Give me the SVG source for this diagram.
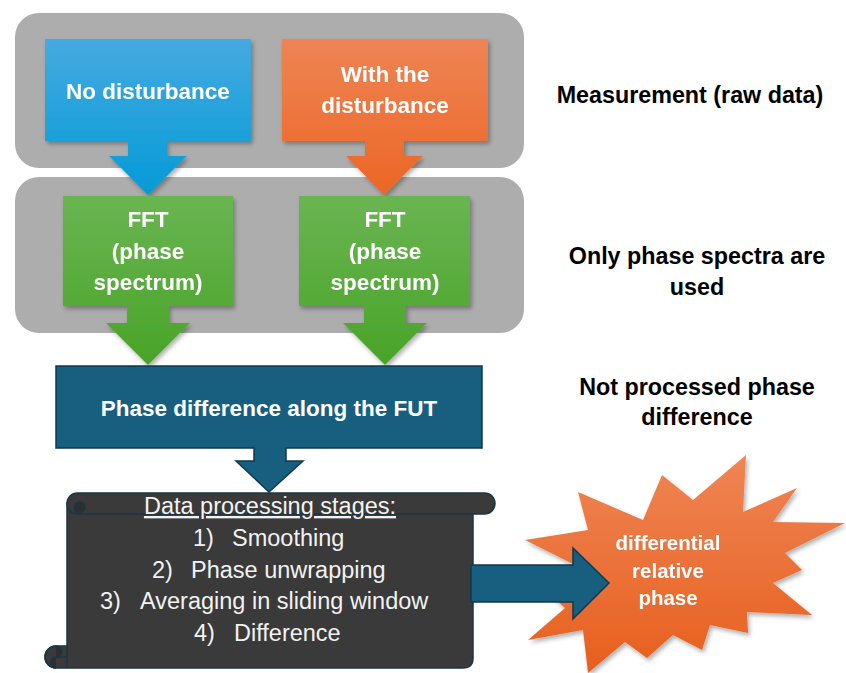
<svg xmlns="http://www.w3.org/2000/svg" width="846" height="673" viewBox="0 0 846 673">
<defs>
<linearGradient id="gBlue" x1="0" y1="0" x2="0" y2="1"><stop offset="0" stop-color="#45aae1"/><stop offset="1" stop-color="#049ad6"/></linearGradient>
<linearGradient id="gOrange" x1="0" y1="0" x2="0" y2="1"><stop offset="0" stop-color="#ee8455"/><stop offset="1" stop-color="#ec6624"/></linearGradient>
<linearGradient id="gGreen" x1="0" y1="0" x2="0" y2="1"><stop offset="0" stop-color="#69b552"/><stop offset="1" stop-color="#49a427"/></linearGradient>
<linearGradient id="gStar" x1="0" y1="0" x2="0" y2="1"><stop offset="0" stop-color="#ef8554"/><stop offset="1" stop-color="#e75f1e"/></linearGradient>
<filter id="sh" x="-10%" y="-10%" width="130%" height="130%"><feDropShadow dx="2" dy="3" stdDeviation="2" flood-color="#000" flood-opacity="0.3"/></filter>
<style>
.panel{fill:#adadad}
.wb{font-family:"Liberation Sans",Arial,sans-serif;font-weight:bold;font-size:22.5px;fill:#fff;text-anchor:middle}
.lbl{font-family:"Liberation Sans",Arial,sans-serif;font-weight:bold;font-size:23.3px;fill:#000;text-anchor:middle}
.sc{font-family:"Liberation Sans",Arial,sans-serif;font-size:23.5px;fill:#f2f2f2}
.dk{fill:#175e7f;stroke:#0e3a4f;stroke-width:1.5}
.st{font-family:"Liberation Sans",Arial,sans-serif;font-weight:bold;font-size:20.5px;fill:#fff;text-anchor:middle}
.ol{stroke:#1a3646;stroke-width:1.5}
</style>
</defs>

<g id="panels">
<rect class="panel" x="15" y="13" width="509" height="155" rx="24"/>
<rect class="panel" x="15" y="177" width="509" height="156" rx="24"/>
</g>

<g id="no-disturbance" filter="url(#sh)">
<path fill="url(#gBlue)" d="M45,39 H251 V141 H167 V156 H187 L148,195 L109,156 H128 V141 H45 Z"/>
<text class="wb" x="148" y="99">No disturbance</text>
</g>

<g id="with-disturbance" filter="url(#sh)">
<path fill="url(#gOrange)" d="M282,39 H488 V141 H404 V156 H423 L384,195 L346,156 H365 V141 H282 Z"/>
<text class="wb" x="385" y="82">With the</text>
<text class="wb" x="385" y="113">disturbance</text>
</g>

<g id="fft-left" filter="url(#sh)">
<path fill="url(#gGreen)" d="M63,196 H233 V306 H169 V323 H190 L148,365 L106,323 H127 V306 H63 Z"/>
<text class="wb" x="148" y="227">FFT</text>
<text class="wb" x="148" y="259">(phase</text>
<text class="wb" x="148" y="290">spectrum)</text>
</g>

<g id="fft-right" filter="url(#sh)">
<path fill="url(#gGreen)" d="M299,196 H470 V306 H406 V323 H427 L385,365 L343,323 H364 V306 H299 Z"/>
<text class="wb" x="385" y="227">FFT</text>
<text class="wb" x="385" y="259">(phase</text>
<text class="wb" x="385" y="290">spectrum)</text>
</g>

<g id="phase-difference">
<path class="dk" d="M56,366 H482 V448 H286 V461 H303 L269,492 L236,461 H254 V448 H56 Z"/>
<text class="wb" x="269" y="416">Phase difference along the FUT</text>
</g>

<g id="starburst" filter="url(#sh)">
<polygon fill="url(#gStar)" points="525,540 588,530 578,492 643,520 662,475 693,500 746,455 743,512 797,488 773,522 845,523 785,553 802,570 773,583 812,615 747,612 748,633 710,625 702,650 673,635 647,658 625,642 588,673 583,630 528,640 565,608 545,590 575,565"/>
<text class="st" x="668" y="550">differential</text>
<text class="st" x="668" y="578">relative</text>
<text class="st" x="668" y="605">phase</text>
</g>

<g id="scroll">
<path class="ol" fill="#3a3a3a" d="M67,503 H473 V658 Q473,668 463,668 H56 A11,11 0 0 1 56,646 H67 Z"/>
<rect class="ol" fill="#3a3a3a" x="67" y="493" width="428" height="21" rx="10.5"/>
<path class="ol" fill="#2e2e2e" d="M80,514 A6,6 0 0 1 80,502 A5,5 0 0 1 80,512"/>
<path class="ol" fill="#2e2e2e" d="M56,646 A5.5,5.5 0 0 1 56,657 A5.5,5.5 0 0 0 56,668"/>
<path class="ol" fill="none" d="M67,646 V668 M56,657 H67 M56,646 A11,11 0 0 0 56,668"/>
<text class="sc" x="270" y="514" text-anchor="middle" text-decoration="underline">Data processing stages:</text>
<text class="sc" y="546"><tspan x="193">1)</tspan><tspan x="232">Smoothing</tspan></text>
<text class="sc" y="578"><tspan x="152">2)</tspan><tspan x="191">Phase unwrapping</tspan></text>
<text class="sc" y="609"><tspan x="100">3)</tspan><tspan x="140">Averaging in sliding window</tspan></text>
<text class="sc" y="641"><tspan x="194">4)</tspan><tspan x="234">Difference</tspan></text>
</g>

<g id="connectors">
<path class="dk" stroke="#0d2b3a" d="M471,565 H573 V548 L609,583 L573,619 V602 H471 Z"/>
</g>

<g id="labels">
<text class="lbl" x="690" y="103">Measurement (raw data)</text>
<text class="lbl" x="697" y="264">Only phase spectra are</text>
<text class="lbl" x="697" y="295">used</text>
<text class="lbl" x="697" y="395">Not processed phase</text>
<text class="lbl" x="697" y="425">difference</text>
</g>
</svg>
